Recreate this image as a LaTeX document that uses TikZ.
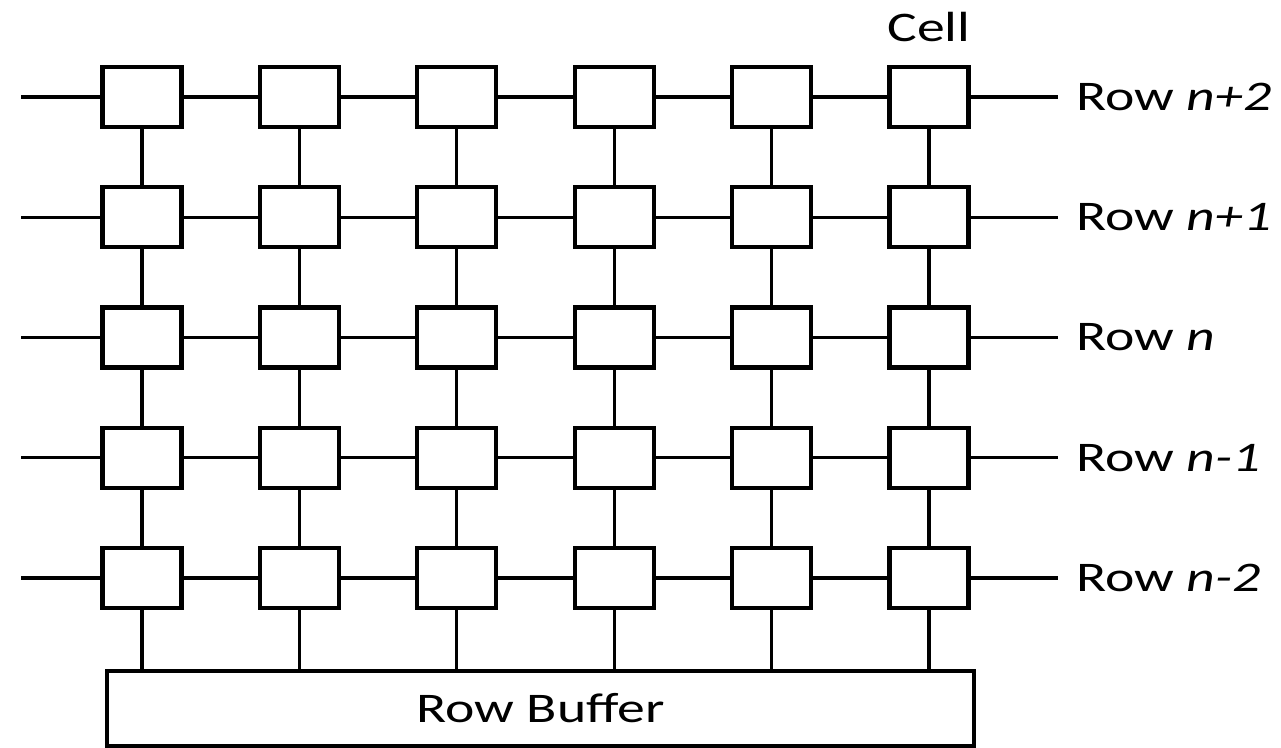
\documentclass[tikz,border=0pt]{standalone}
\usepackage{fontspec}
\setmainfont{Carlito}[FakeStretch=1.32]
\usetikzlibrary{positioning}

\begin{document}
\begin{tikzpicture}[
  cell/.style={draw,line width=2.3pt,fill=white,minimum width=1.58cm,minimum height=1.2cm,inner sep=0pt},
  wire/.style={line width=1.9pt},
  lbl/.style={font=\fontsize{24}{28}\selectfont,inner sep=0pt}]
  \useasboundingbox (0,0) rectangle (25.62,14.96);
  % cells: row \i from top, column \j from left
  \foreach \i in {1,...,5}
    \foreach \j in {1,...,6}
      \node[cell] (c-\i-\j) at ({2.84+3.148*(\j-1)},{13.02-2.405*(\i-1)}) {};
  \node[draw,line width=2.3pt,lbl,minimum width=17.34cm,minimum height=1.5cm] (buf) at (10.81,0.79) {Row Buffer};
  % word lines
  \foreach \i/\t in {1/n+2,2/n+1,3/n,4/n-1,5/n-2} {
    \coordinate (l-\i) at ([xshift=-2.42cm]c-\i-1.center);
    \coordinate (r-\i) at ([xshift=2.58cm]c-\i-6.center);
    \draw[wire] (l-\i) -- (c-\i-1);
    \foreach \j [count=\k from 2] in {1,...,5}
      \draw[wire] (c-\i-\j) -- (c-\i-\k);
    \draw[wire] (c-\i-6) -- (r-\i);
    \node[lbl,right=0.36cm of r-\i] (t-\i) {Row \textit{\t}};
  }
  % bit lines down to the buffer
  \foreach \j in {1,...,6} {
    \foreach \i [count=\k from 2] in {1,...,4}
      \draw[wire] (c-\i-\j) -- (c-\k-\j);
    \draw[wire] (c-5-\j) -- (c-5-\j |- buf.north);
  }
  \node[lbl,above=0.46cm of c-1-6] (celltxt) {Cell};
\end{tikzpicture}
\end{document}
